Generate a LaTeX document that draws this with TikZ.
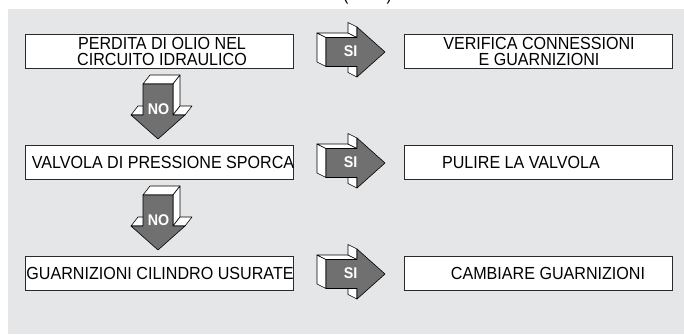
\documentclass[tikz,border=0pt]{standalone}
\usepackage{fontspec}
\setmainfont{Liberation Sans}[FakeStretch=0.92]
\definecolor{bggray}{HTML}{E5E6E7}
\definecolor{arrowgray}{HTML}{707070}
\definecolor{boxline}{HTML}{2A2A2A}
\begin{document}
\begin{tikzpicture}[x=1pt,y=-1pt,
  box/.style={draw=boxline, line width=0.9pt, fill=white, minimum width=268pt, minimum height=34pt, inner sep=0pt},
  txt/.style={font=\fontsize{17.5}{15.5}\selectfont, align=center, inner sep=0pt},
  face/.style={fill=white, draw=black, line width=0.6pt, line join=round},
  frontface/.style={fill=arrowgray, draw=black, line width=0.6pt, line join=round},
  lab/.style={text=white, font=\bfseries\fontsize{15.5}{15.5}\selectfont, inner sep=0pt},
  siarrow/.pic={
    \draw[face] (-16,-14.5) -- (-16,14.5) -- (-25,10) -- (-25,-19) -- cycle;
    \draw[face] (-16,-14.5) -- (15,-14.5) -- (6,-19) -- (-25,-19) -- cycle;
    \draw[face] (15,-25) -- (15,-14.5) -- (6,-19) -- (6,-29.5) -- cycle;
    \draw[face] (15,14.5) -- (15,25) -- (6,20.5) -- (6,10) -- cycle;
    \draw[frontface] (-16,-14.5) -- (15,-14.5) -- (15,-25) -- (43,0) -- (15,25) -- (15,14.5) -- (-16,14.5) -- cycle;
    \node[lab] (-lab) at (8.5,-1) {SI};
  },
  noarrow/.pic={
    \draw[face] (-15,-16) -- (15,-16) -- (22,-25) -- (-8,-25) -- cycle;
    \draw[face] (15,-16) -- (15,15) -- (22,6) -- (22,-25) -- cycle;
    \draw[face] (-27,15) -- (-15,15) -- (-8,6) -- (-20,6) -- cycle;
    \draw[face] (15,15) -- (27,15) -- (34,6) -- (22,6) -- cycle;
    \draw[frontface] (-15,-16) -- (15,-16) -- (15,15) -- (27,15) -- (0,39) -- (-27,15) -- (-15,15) -- cycle;
    \node[lab] (-lab) at (0.5,9) {NO};
  }]
\useasboundingbox (0,0) rectangle (684,334);
\fill[bggray] (8,9) rectangle (684,334);
\node[txt, anchor=base] (title) at (367.5,0.5) {(\hspace{38pt})};

% left boxes
\node[box] (b1) at (159,51.5) {};
\node[box] (b2) at (159,162) {};
\node[box] (b3) at (159,273) {};
% right boxes
\node[box] (r1) at (538,51.5) {};
\node[box] (r2) at (538,162) {};
\node[box] (r3) at (538,273) {};

% texts
\node[txt] (tb1) at (162,51.5) {PERDITA DI OLIO NEL\\CIRCUITO IDRAULICO};
\node[txt] (tb2) at (163,162) {VALVOLA DI PRESSIONE SPORCA};
\node[txt] (tb3) at (160,273) {GUARNIZIONI CILINDRO USURATE};
\node[txt] (tr1) at (539,51.5) {VERIFICA CONNESSIONI\\E GUARNIZIONI};
\node[txt] (tr2) at (521,162) {PULIRE LA VALVOLA};
\node[txt] (tr3) at (548,273) {CAMBIARE GUARNIZIONI};

% SI arrows
\pic (si1) at (342,52) {siarrow};
\pic (si2) at (342,163) {siarrow};
\pic (si3) at (342,274) {siarrow};
% NO arrows
\pic (no1) at (158,100) {noarrow};
\pic (no2) at (158,211) {noarrow};
\end{tikzpicture}
\end{document}
